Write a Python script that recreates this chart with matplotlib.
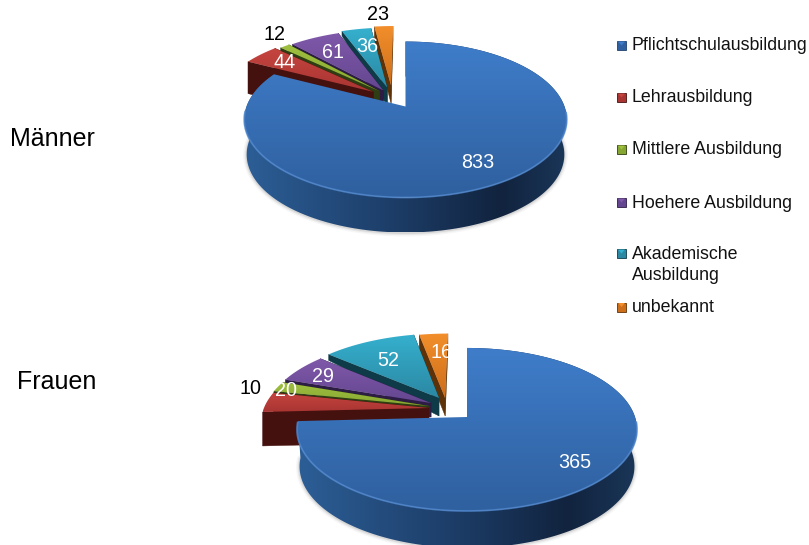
"""Two exploded 3D pies: education level of men and women."""
import matplotlib
matplotlib.use("Agg")
import matplotlib.pyplot as plt
import numpy as np
from matplotlib.colors import to_rgb
from matplotlib.patches import Polygon, Rectangle

plt.rcParams["font.family"] = ["Liberation Sans", "DejaVu Sans"]

categories = ["Pflichtschulausbildung", "Lehrausbildung", "Mittlere Ausbildung",
              "Hoehere Ausbildung", "Akademische\nAusbildung", "unbekannt"]
men_values = [833, 44, 12, 61, 36, 23]
women_values = [365, 20, 10, 29, 52, 16]
group_names = ["Männer", "Frauen"]

# top / bottom of the face gradient, then the dark side
TOP_HI = ["#3f7dca", "#c5443f", "#a0c040", "#8059aa", "#35b0ce", "#f28e2b"]
TOP_LO = ["#2f609f", "#a93532", "#86a632", "#644690", "#2b88a3", "#cd6e1a"]
SIDE = ["#1f426f", "#44110f", "#2f3d12", "#2d1d44", "#0f3a47", "#5e3208"]

# pie placement: apex x/y, radii, perspective, slice shifts, wall depth at rim and apex
MEN_PIE = dict(cx=405.5, cy=106.5, B=159, A=75.8, k=0.167,
               shift=[(0, 0), (-0.21, 0.20), (-0.17, 0.21), (-0.145, 0.22), (-0.12, 0.26), (-0.095, 0.29)],
               rim=[35, 32, 8, 5, 5, 14], inner=[35, 32, 14, 16, 18, 18])
WOMEN_PIE = dict(cx=467, cy=417, B=168, A=79.6, k=0.153,
                 shift=[(0, 0), (-0.23, 0.115), (-0.23, 0.14), (-0.22, 0.18), (-0.173, 0.248), (-0.135, 0.248)],
                 rim=[37, 34, 6, 5, 6, 16], inner=[37, 34, 10, 14, 18, 18])

MEN_LABELS = [(478, 162, "w"), (285, 62, "w"), (275, 34, "k"), (333, 53, "w"), (367, 46, "w"), (378, 15, "k")]
WOMEN_LABELS = [(575, 463, "w"), (286, 390, "w"), (251, 388, "k"), (323, 376, "w"), (388, 360, "w"), (442, 353, "w")]

LEGEND_Y = [46, 98, 150, 203, 265, 307.5]
WALL_STOPS = [0.0, 0.45, 0.8, 1.0]
WALL_COLORS = ["#2c5e96", "#1d3e69", "#11233e", "#1a3658"]


def project(p, u, v):
    den = 1 + p["k"] * v
    return p["cx"] + p["B"] * u / den, p["cy"] - p["A"] * v / den


def clipped_image(ax, xy, img, z):
    xs, ys = xy[:, 0], xy[:, 1]
    im = ax.imshow(img, extent=(xs.min(), xs.max(), ys.max(), ys.min()),
                   aspect="auto", interpolation="bilinear", zorder=z)
    clip = Polygon(xy, closed=True, transform=ax.transData, fill=False, edgecolor="none")
    ax.add_patch(clip)
    im.set_clip_path(clip)


def gradient_face(ax, xy, hi, lo, z):
    ramp = np.linspace(0, 1, 64)[:, None, None]
    img = (1 - ramp) * np.array(to_rgb(hi)) + ramp * np.array(to_rgb(lo))
    clipped_image(ax, xy, img, z)


def draw_wall(ax, x, y, d, p, z):
    # outer wall of the blue slice, lighter on the left and darkest right of centre
    rgb = np.array([to_rgb(c) for c in WALL_COLORS])
    f = np.linspace(0, 1, 128)
    img = np.stack([np.interp(f, WALL_STOPS, rgb[:, c]) for c in range(3)], axis=-1)[None, :, :]
    xb = p["cx"] + (x - p["cx"]) * 0.985
    xy = np.column_stack([np.r_[x, xb[::-1]], np.r_[y, (y + d)[::-1]]])
    clipped_image(ax, xy, img, z)


def draw_pie(ax, values, p):
    total = sum(values)
    edges = np.cumsum([0] + values) / total * 2 * np.pi
    z = 2
    # far slices first, the big blue one last
    for i in [5, 4, 3, 2, 1, 0]:
        du, dv = p["shift"][i]
        t = np.linspace(edges[i], edges[i + 1], 240 if i == 0 else 40)
        x, y = project(p, du + np.sin(t), dv + np.cos(t))
        ax_, ay_ = project(p, du, dv)
        d = p["rim"][i]
        if i == 0:
            # soft ground shadow under the wall
            low = y > p["cy"] - 10
            for lw, a in [(5, 0.05), (3, 0.08), (1.5, 0.12)]:
                ax.plot(p["cx"] + (x[low] - p["cx"]) * 0.985, y[low] + d + 0.5, color="#555555", lw=lw, alpha=a,
                        zorder=z, solid_capstyle="round")
            draw_wall(ax, x, y, d, p, z + 1)
        else:
            d0 = p["inner"][i]
            for xr, yr in [(x[0], y[0]), (x[-1], y[-1])]:
                ax.add_patch(Polygon([(ax_, ay_), (xr, yr), (xr, yr + d), (ax_, ay_ + d0)],
                                     facecolor=SIDE[i], edgecolor=SIDE[i], linewidth=0.3, zorder=z + 1))
        xy = np.column_stack([np.r_[ax_, x], np.r_[ay_, y]])
        gradient_face(ax, xy, TOP_HI[i], TOP_LO[i], z + 2)
        if i == 0:
            front = y > p["cy"] + 5
            ax.plot(x[front], y[front], color="#4f86cc", lw=1.3, alpha=0.8, zorder=z + 3)
        z += 4
    return z


def draw_labels(ax, values, labels, z, clip_right=None):
    for val, (x, y, col) in zip(values, labels):
        t = ax.text(x, y, str(val), color="white" if col == "w" else "black", fontsize=14.2,
                    ha="center", va="center", zorder=z)
        if clip_right is not None and x > clip_right - 20 and y < 360:
            t.set_clip_path(Rectangle((0, 0), clip_right, 545, transform=ax.transData))


fig = plt.figure(figsize=(8.09, 5.45), dpi=100)
ax = fig.add_axes([0, 0, 1, 1])

z = draw_pie(ax, men_values, MEN_PIE)
draw_labels(ax, men_values, MEN_LABELS, z)
z = draw_pie(ax, women_values, WOMEN_PIE)
draw_labels(ax, women_values, WOMEN_LABELS, z, clip_right=449)

ax.text(10, 138.5, group_names[0], fontsize=18, ha="left", va="center")
ax.text(17, 382, group_names[1], fontsize=18, ha="left", va="center")

# legend with small bevelled squares
for i, (name, ly) in enumerate(zip(categories, LEGEND_Y)):
    my = ly - 11.5 if "\n" in name else ly - 0.5
    ax.add_patch(Rectangle((617, my - 4.5), 9, 9, facecolor=TOP_LO[i], edgecolor=SIDE[i], linewidth=0.6, zorder=5))
    ax.add_patch(Polygon([(618, my - 4), (625, my - 4), (621.5, my)], facecolor=TOP_HI[i], edgecolor="none", zorder=6))
    ax.text(632, ly, name, fontsize=12.8, ha="left", va="center", linespacing=1.35, color="#111111")

ax.set_xlim(0, 809)
ax.set_ylim(545, 0)
ax.axis("off")
fig.savefig("out.png", dpi=100)
